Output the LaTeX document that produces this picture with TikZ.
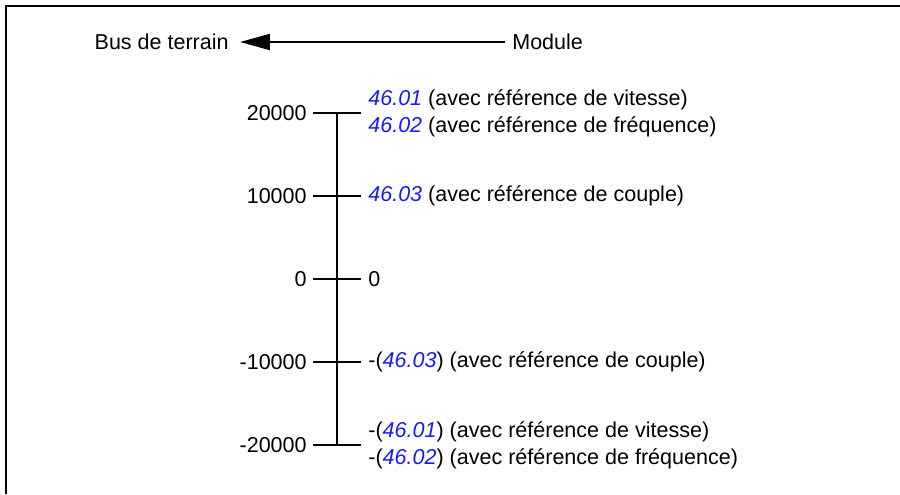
\documentclass[tikz,border=0pt]{standalone}
\usepackage{fontspec}
\setmainfont{Liberation Sans}
\usepackage{xcolor}
\definecolor{parblue}{RGB}{25, 25, 255}
\usepackage{tikz}
\usetikzlibrary{arrows.meta, positioning, calc}

\newcommand{\prm}[1]{\textcolor{parblue}{\textit{#1}}}

\begin{document}
\begin{tikzpicture}[
  x=0.02cm, y=-0.02cm,
  txt/.style={font=\fontsize{12.25}{15.4}\selectfont, inner sep=0pt, align=left},
  lbl/.style={txt, anchor=east, inner xsep=0.12cm},
  val/.style={txt, anchor=west, inner xsep=0.14cm},
  ln/.style={line width=1.1pt}
]
  \useasboundingbox (0,0) rectangle (900,494);
  % frame
  \draw[ln] (6,494) -- (6,6) -- (900,6);

  % direction
  \node[txt, anchor=east, inner xsep=0.22cm] (bus) at (240,42) {Bus de terrain};
  \node[txt, anchor=west, inner xsep=0.14cm] (mod) at (505,42) {Module};
  \draw[ln, -{Triangle[length=0.6cm, width=0.32cm]}] (mod) -- (bus);

  % scale
  \foreach \nm/\y/\v in {a/113/20000, b/196/10000, c/279/0, d/362/-10000, e/445/-20000}
    \node[lbl] (l\nm) at (313,\y) {\v};

  \node[val] (ra) at (361,113) {\prm{46.01} (avec référence de vitesse)\\\prm{46.02} (avec référence de fréquence)};
  \node[val] (rb) at (361,196) {\prm{46.03} (avec référence de couple)};
  \node[val] (rc) at (361,279) {0};
  \node[val] (rd) at (361,362) {-(\prm{46.03}) (avec référence de couple)};
  \node[val] (re) at (361,445) {-(\prm{46.01}) (avec référence de vitesse)\\-(\prm{46.02}) (avec référence de fréquence)};

  \foreach \nm in {a,b,c,d,e}
    \draw[ln] (l\nm.east) -- (l\nm.east -| r\nm.west);
  \draw[ln] ($(la.east)!0.5!(la.east -| ra.west)$) -- ($(le.east)!0.5!(le.east -| re.west)$);
\end{tikzpicture}
\end{document}
